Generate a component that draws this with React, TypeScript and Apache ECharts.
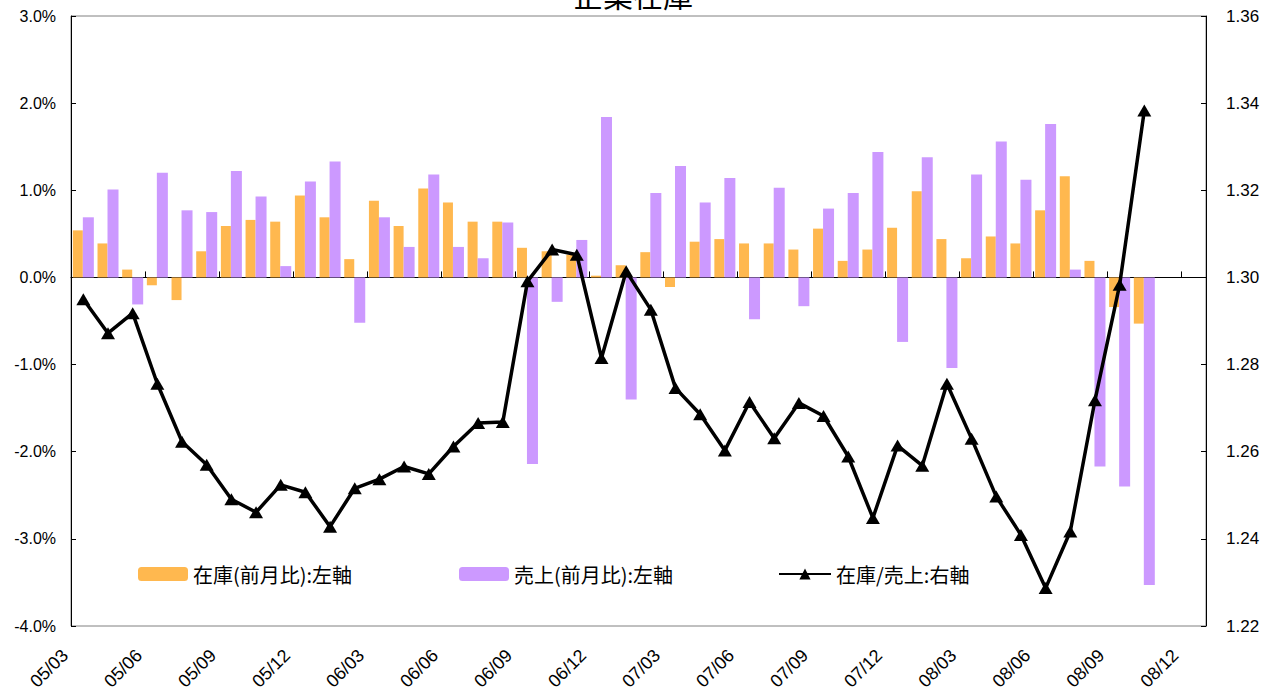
import React, { useEffect, useRef } from "react";
import * as echarts from "echarts";

const categories = [
  "05/03", "05/04", "05/05", "05/06", "05/07", "05/08", "05/09", "05/10", "05/11", "05/12",
  "06/01", "06/02", "06/03", "06/04", "06/05", "06/06", "06/07", "06/08", "06/09", "06/10", "06/11", "06/12",
  "07/01", "07/02", "07/03", "07/04", "07/05", "07/06", "07/07", "07/08", "07/09", "07/10", "07/11", "07/12",
  "08/01", "08/02", "08/03", "08/04", "08/05", "08/06", "08/07", "08/08", "08/09", "08/10", "08/11", "08/12",
];

// 在庫(前月比) %
const inventoryMoM = [
  0.54, 0.39, 0.09, -0.09, -0.26, 0.30, 0.59, 0.66, 0.64, 0.94,
  0.69, 0.21, 0.88, 0.59, 1.02, 0.86, 0.64, 0.64, 0.34, 0.30, 0.26, 0.02,
  0.14, 0.29, -0.11, 0.41, 0.44, 0.39, 0.39, 0.32, 0.56, 0.19, 0.32, 0.57,
  0.99, 0.44, 0.22, 0.47, 0.39, 0.77, 1.16, 0.19, -0.34, -0.53,
];

// 売上(前月比) %
const salesMoM = [
  0.69, 1.01, -0.31, 1.20, 0.77, 0.75, 1.22, 0.93, 0.13, 1.10,
  1.33, -0.52, 0.69, 0.35, 1.18, 0.35, 0.22, 0.63, -2.14, -0.28, 0.43, 1.84,
  -1.40, 0.97, 1.28, 0.86, 1.14, -0.48, 1.03, -0.33, 0.79, 0.97, 1.44, -0.74,
  1.38, -1.04, 1.18, 1.56, 1.12, 1.76, 0.09, -2.17, -2.40, -3.53,
];

// 在庫/売上 比率
const inventorySalesRatio = [
  1.2950, 1.2872, 1.2918, 1.2756, 1.2623, 1.2570, 1.2491, 1.2461, 1.2524, 1.2507,
  1.2428, 1.2516, 1.2537, 1.2566, 1.2549, 1.2612, 1.2666, 1.2668, 1.2991, 1.3064, 1.3052, 1.2815,
  1.3014, 1.2926, 1.2746, 1.2686, 1.2603, 1.2714, 1.2631, 1.2712, 1.2682, 1.2589, 1.2448, 1.2614,
  1.2568, 1.2756, 1.2630, 1.2497, 1.2409, 1.2287, 1.2417, 1.2718, 1.2983, 1.3383,
];

const seriesNames = ["在庫(前月比):左軸", "売上(前月比):左軸", "在庫/売上:右軸"];
const titleText = "企業在庫";

const ORANGE = "#FFB84F";
const PURPLE = "#CC99FF";
const LATIN = '"Liberation Sans", Arial, sans-serif';
const CJK = '"Noto Sans CJK JP", "Liberation Sans", sans-serif';

export default function App() {
  const ref = useRef<HTMLDivElement>(null);
  useEffect(() => {
    if (!ref.current) return;
    const chart = echarts.init(ref.current, null, { renderer: "svg" });
    const legendText = { fontFamily: CJK, fontSize: 20, color: "#000" };
    chart.setOption({
      animation: false,
      backgroundColor: "#fff",
      graphic: [
        {
          type: "text",
          x: 633,
          y: 9,
          style: {
            text: titleText,
            font: `30px ${CJK}`,
            fill: "#000",
            textAlign: "center",
            textVerticalAlign: "bottom",
            align: "center",
            verticalAlign: "bottom",
          },
        },
      ],
      legend: [
        {
          data: [seriesNames[0]],
          left: 138,
          top: 564,
          padding: 0,
          itemWidth: 50,
          itemHeight: 14,
          textStyle: legendText,
        },
        {
          data: [seriesNames[1]],
          left: 459,
          top: 564,
          padding: 0,
          itemWidth: 50,
          itemHeight: 14,
          textStyle: legendText,
        },
        {
          data: [seriesNames[2]],
          left: 778,
          top: 564,
          padding: 0,
          itemWidth: 52,
          itemHeight: 14,
          textStyle: legendText,
        },
      ],
      grid: {
        left: 71,
        right: 57,
        top: 16,
        bottom: 68,
        show: true,
        borderColor: "#808080",
        borderWidth: 1,
        backgroundColor: "transparent",
        outerBoundsMode: "none",
        containLabel: false,
      },
      xAxis: [
        {
          type: "category",
          data: categories,
          position: "bottom",
          axisLine: { show: false, onZero: false },
          axisTick: { show: false },
          axisLabel: {
            interval: 2,
            rotate: 45,
            margin: 8,
            fontFamily: LATIN,
            fontSize: 18,
            color: "#000",
            padding: [0, 26, 0, 0],
          },
          splitLine: { show: false },
        },
        {
          type: "category",
          data: categories,
          position: "bottom",
          axisLine: { show: true, onZero: true, onZeroAxisIndex: 0, lineStyle: { color: "#000", width: 1 } },
          axisTick: { show: true, inside: true, interval: 2, length: 6, lineStyle: { color: "#000" } },
          axisLabel: { show: false },
          splitLine: { show: false },
        },
      ],
      yAxis: [
        {
          type: "value",
          position: "left",
          min: -4,
          max: 3,
          interval: 1,
          axisLine: { show: true, lineStyle: { color: "#000", width: 1 } },
          axisTick: { show: true, inside: true, length: 5, lineStyle: { color: "#000" } },
          axisLabel: {
            formatter: (v: number) => `${v.toFixed(1)}%`,
            fontFamily: LATIN,
            fontSize: 16,
            color: "#000",
            margin: 15,
          },
          splitLine: { show: false },
        },
        {
          type: "value",
          position: "right",
          min: 1.22,
          max: 1.36,
          interval: 0.02,
          axisLine: { show: true, lineStyle: { color: "#000", width: 1 } },
          axisTick: { show: true, inside: true, length: 5, lineStyle: { color: "#000" } },
          axisLabel: {
            formatter: (v: number) => v.toFixed(2),
            fontFamily: LATIN,
            fontSize: 17,
            color: "#000",
            margin: 20,
          },
          splitLine: { show: false },
        },
      ],
      series: [
        {
          name: seriesNames[0],
          type: "bar",
          xAxisIndex: 0,
          yAxisIndex: 0,
          data: inventoryMoM,
          barWidth: 10,
          barGap: "0%",
          itemStyle: { color: ORANGE },
        },
        {
          name: seriesNames[1],
          type: "bar",
          xAxisIndex: 0,
          yAxisIndex: 0,
          data: salesMoM,
          barWidth: 11,
          barGap: "0%",
          itemStyle: { color: PURPLE },
        },
        {
          name: seriesNames[2],
          type: "line",
          xAxisIndex: 0,
          yAxisIndex: 1,
          data: inventorySalesRatio,
          symbol: "triangle",
          symbolSize: [14, 12],
          lineStyle: { color: "#000", width: 3.5 },
          itemStyle: { color: "#000" },
          z: 5,
        },
      ],
    });
    return () => chart.dispose();
  }, []);
  return (
    <div
      ref={ref}
      style={{ position: "absolute", left: 0, top: 0, width: 1263, height: 694 }}
    />
  );
}
